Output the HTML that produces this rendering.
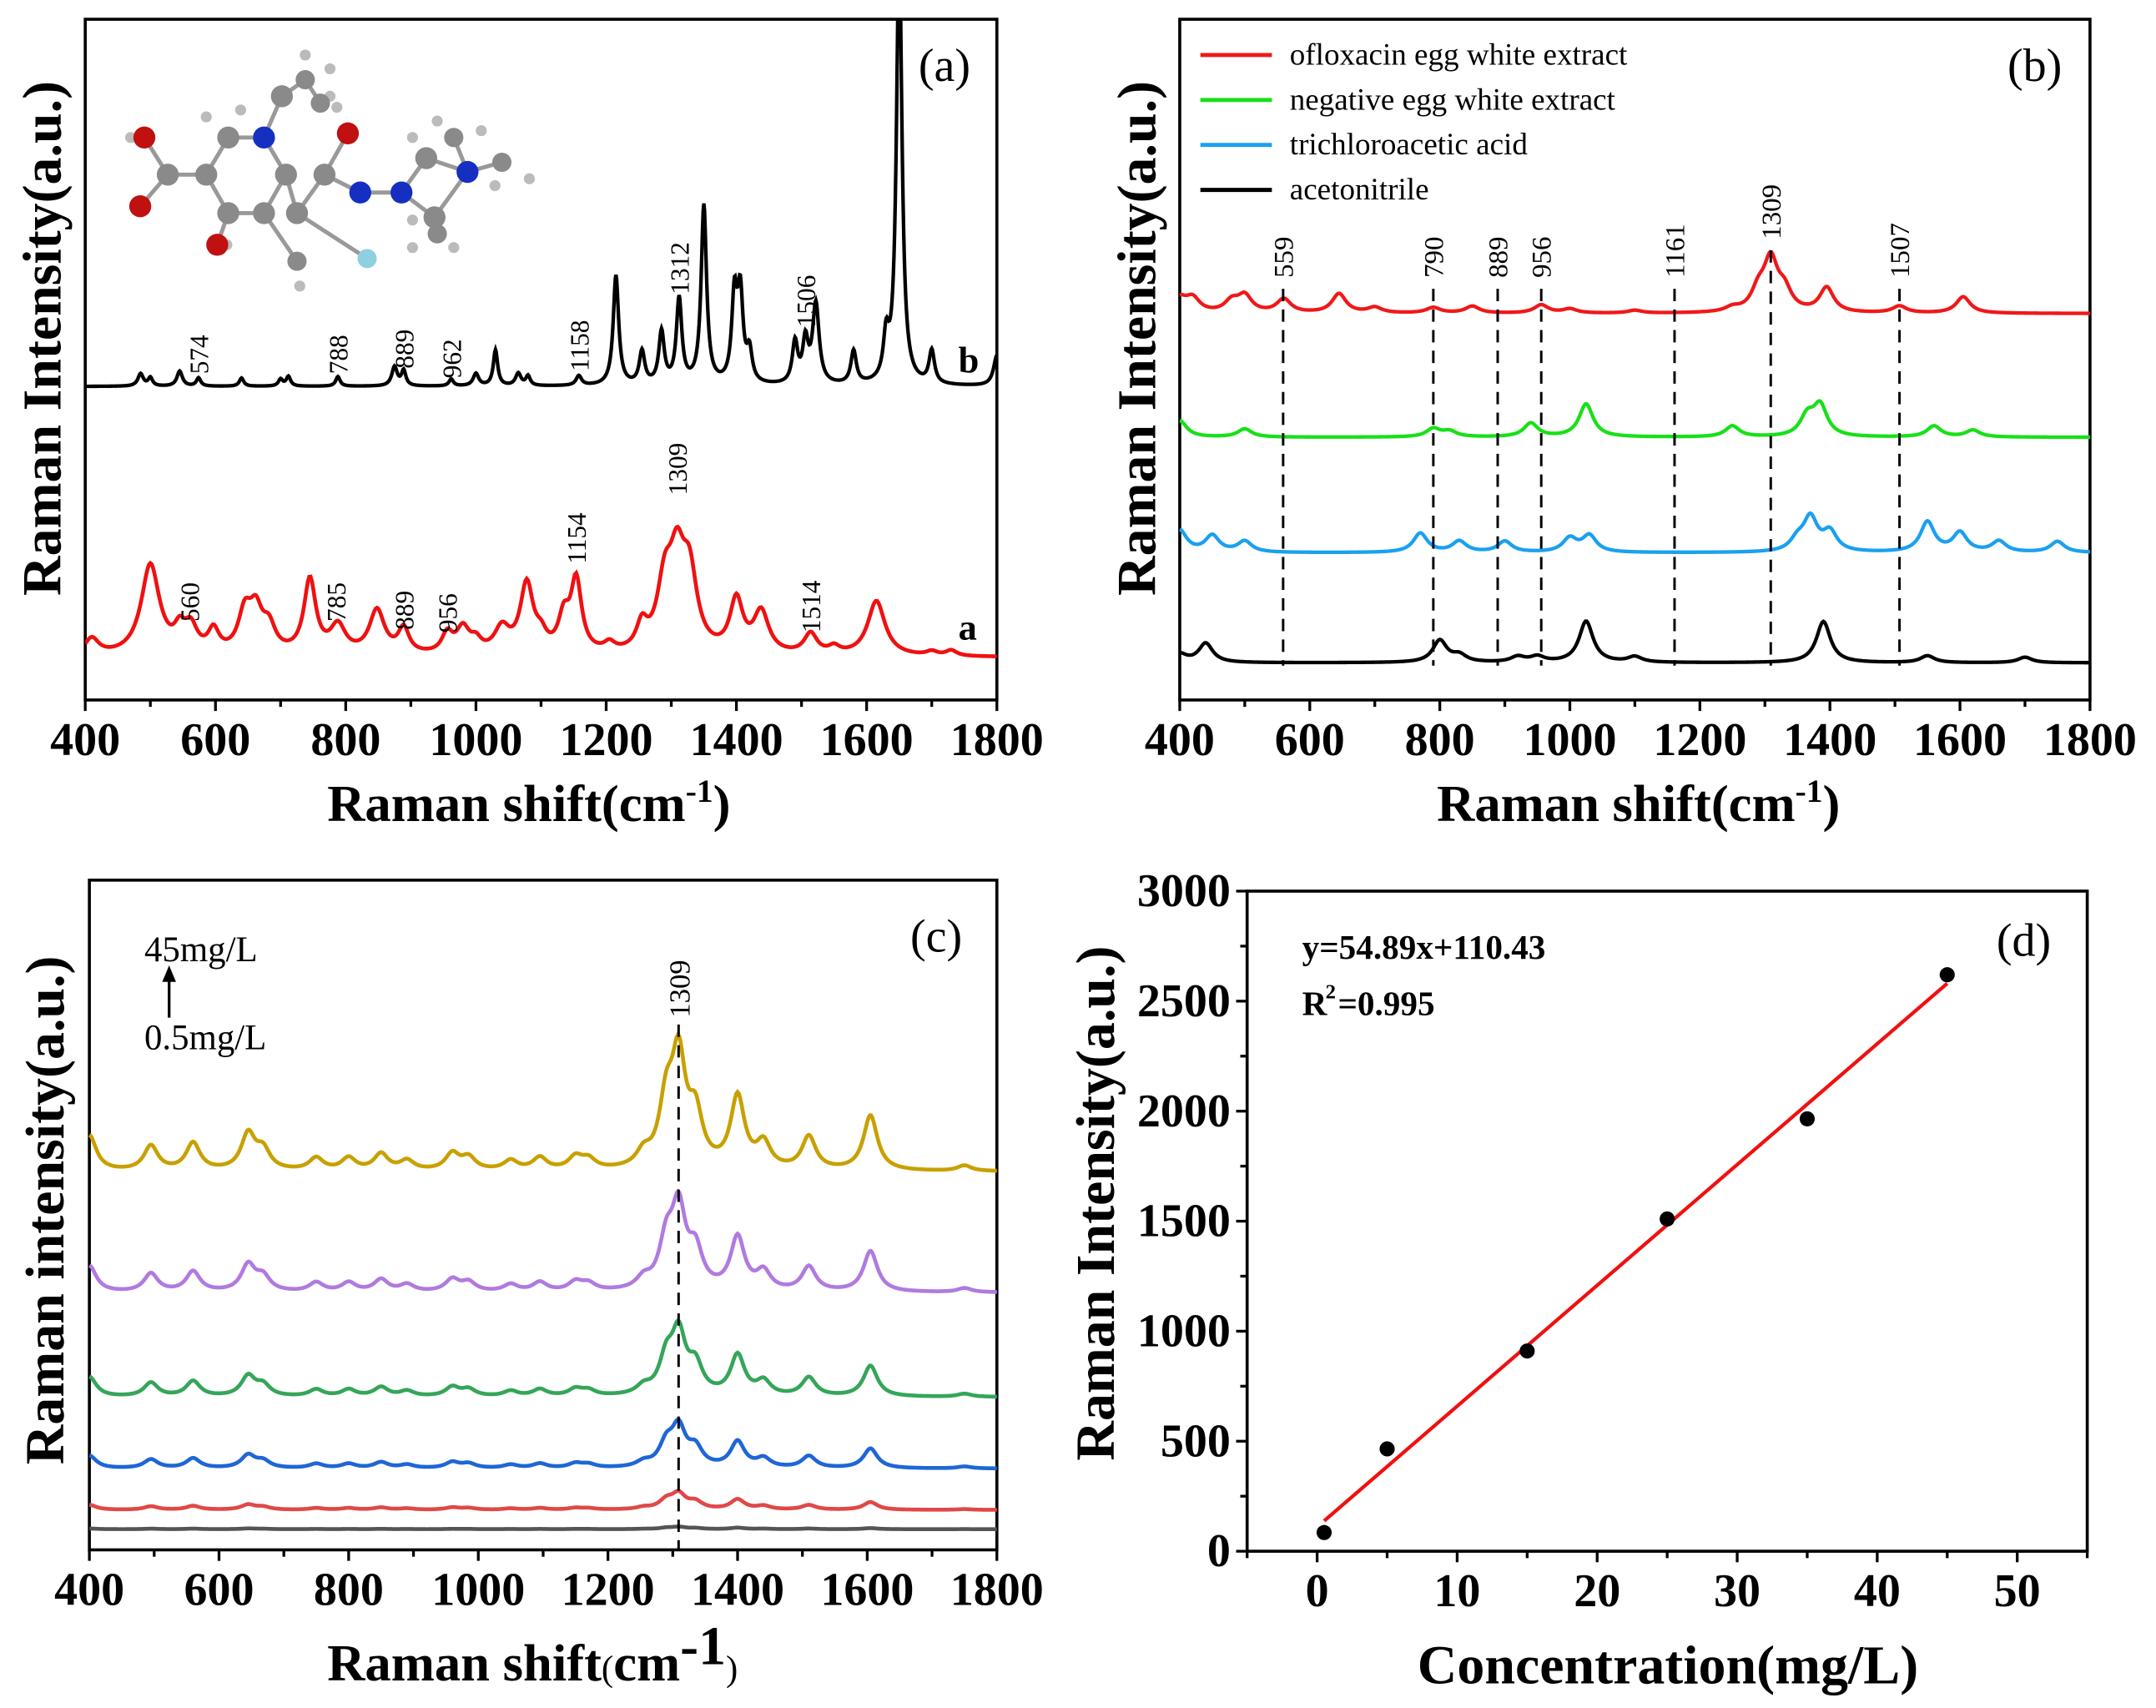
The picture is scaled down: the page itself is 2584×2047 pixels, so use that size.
<!DOCTYPE html>
<html><head><meta charset="utf-8">
<style>
html,body{margin:0;padding:0;background:#fff;}
svg{display:block;font-family:"Liberation Serif","DejaVu Serif",serif;}
</style></head>
<body>
<svg id="fig" width="2584" height="2047" viewBox="0 0 1568 1242" preserveAspectRatio="none" xmlns="http://www.w3.org/2000/svg"></svg>
<script>
// ---------- DATA ----------
const aRedCenters=[410,500,545,562,597,645,662,682,745,788,848,889,956,980,1000,1040,1078,1100,1135,1154,1205,1255,1290,1309,1328,1400,1438,1514,1550,1615,1700,1730];
const aRedHeights=[12,66,14,18,16,28,28,18,54,20,32,18,14,18,8,18,50,10,24,52,6,18,46,58,52,38,30,15,5,40,3,4];
const aRedWidths=[13,17,10,12,10,12,12,12,11,14,14,10,10,12,10,14,12,10,10,10,10,10,14,14,14,12,14,12,10,16,10,10];
const aBlkCenters=[485,500,545,574,640,700,712,788,875,889,962,1000,1030,1065,1080,1158,1215,1255,1285,1312,1350,1397,1406,1420,1490,1506,1522,1580,1630,1650,1700,1800];
const aBlkHeights=[9,6,11,6,6,5,7,7,14,11,5,9,26,9,7,7,80,24,38,62,130,62,62,22,30,30,58,24,30,320,24,22];
const aBlkWidths=[5,4,5,4,4,4,4,4,5,4,4,5,4,5,4,5,5,5,5,5,5,5,5,5,5,5,6,5,5,5,5,6];
const bSeriesNames=["ofloxacin egg white extract","negative egg white extract","trichloroacetic acid","acetonitrile"];
const bRedCenters=[400,420,480,500,560,645,700,790,850,956,1000,1100,1250,1290,1309,1330,1395,1507,1605];
const bRedHeights=[10,10,8,12,10,14,4,4,5,6,3,2,3,14,36,14,18,5,12];
const bGreenCenters=[400,500,790,815,940,1025,1250,1365,1385,1560,1620];
const bGreenHeights=[12,6,6,4,10,24,8,14,22,8,5];
const bBlueCenters=[400,450,500,770,830,900,1000,1030,1350,1370,1400,1550,1600,1660,1750];
const bBlueHeights=[16,12,8,14,8,8,10,12,8,24,14,22,14,8,8];
const bBlackCenters=[400,440,800,830,920,950,1025,1100,1390,1550,1700];
const bBlackHeights=[6,14,16,5,4,4,30,4,30,5,4];
const bMarks=[559,790,889,956,1161,1309,1507];
const cCenters=[400,495,560,645,668,750,800,850,890,960,985,1050,1095,1150,1170,1255,1290,1309,1335,1400,1440,1510,1605,1750];
const cHeights=[26,18,20,26,14,9,9,12,7,12,9,7,9,9,7,10,44,76,36,52,18,24,40,4];
const cScales=[1.0,0.74,0.56,0.36,0.14,0.02];
const cBaselines=[852,940,1016,1068,1098,1112];
const cColors=["#c8a000","#b07ae0","#35a55a","#1f66d6","#e04848","#555555"];
const cNames=["45mg/L","35mg/L","25mg/L","15mg/L","5mg/L","0.5mg/L"];
const dConc=[0.5,5,15,25,35,45];
const dInt=[85,465,910,1510,1965,2620];
const dSlope=54.89, dIntercept=110.43;
const xTicksRaman=[400,600,800,1000,1200,1400,1600,1800];
const dXTicks=[0,10,20,30,40,50];
const dYTicks=[0,500,1000,1500,2000,2500,3000];

// ---------- helpers ----------
const NS="http://www.w3.org/2000/svg";
const svg=document.getElementById('fig');
function mk(tag,attrs,parent){const e=document.createElementNS(NS,tag);for(const k in attrs)e.setAttribute(k,attrs[k]);(parent||svg).appendChild(e);return e;}
function txt(s,attrs,parent){const e=mk('text',attrs,parent);e.textContent=s;return e;}
function spec(cs,hs,ws,defW,x){let s=0;for(let i=0;i<cs.length;i++){const w=ws?ws[i]:defW;const d=(x-cs[i])/w;s+=hs[i]/(1+d*d);}return s;}
function ramanX(x0,x1){return v=>x0+(v-400)*(x1-x0)/1400;}
function pathFor(cs,hs,ws,defW,sx,base,scale,step){let d='';for(let v=400;v<=1800;v+=step){const y=base-scale*spec(cs,hs,ws,defW,v);d+=(d?'L':'M')+sx(v).toFixed(2)+','+y.toFixed(2);}return d;}
function ramanAxis(g,x0,x1,y0,y1){
  const sx=ramanX(x0,x1);
  const r=mk('rect',{x:x0,y:y0,width:x1-x0,height:y1-y0,fill:'none',stroke:'#000','stroke-width':2.2},g);
  
  
  for(let v=400;v<=1800;v+=100){const major=v%200===0;mk('line',{x1:sx(v),x2:sx(v),y1:y1,y2:y1+(major?8:5),stroke:'#000','stroke-width':2},g);}
  xTicksRaman.forEach(v=>{const t=txt(String(v),{x:sx(v),y:y1+40,'text-anchor':'middle','font-size':34,'font-weight':'bold'},g);
    
    });
  return sx;
}
function shiftTitle(g,x,y){
  const t=mk('text',{x:x,y:y,'font-size':38,'font-weight':'bold'},g);
  
  
  const a=mk('tspan',{},t);a.textContent='Raman shift(cm';
  const b=mk('tspan',{'font-size':24,dy:-14},t);b.textContent='-1';
  const c=mk('tspan',{dy:14},t);c.textContent=')';
  return t;
}

// ---------- PANEL A ----------
(function(){
const g=mk('g',{});


const x0=62,x1=725,y0=14,y1=509;
const sx=ramanAxis(g,x0,x1,y0,y1);
const clip=mk('clipPath',{id:'clipA'},g);mk('rect',{x:x0,y:y0,width:x1-x0,height:y1-y0},clip);
const red=mk('path',{d:pathFor(aRedCenters,aRedHeights,aRedWidths,10,sx,478,1,2),fill:'none',stroke:'#f01010','stroke-width':2.8,'clip-path':'url(#clipA)'},g);


const blk=mk('path',{d:pathFor(aBlkCenters,aBlkHeights,aBlkWidths,4,sx,281,1,1),fill:'none',stroke:'#000','stroke-width':2.6,'clip-path':'url(#clipA)'},g);


const redLabels=[[560,452],[785,452],[889,458],[956,460],[1154,410],[1309,360],[1514,460]];
const blkLabels=[[574,272],[788,272],[889,268],[962,275],[1158,270],[1312,214],[1506,238]];
redLabels.concat(blkLabels).forEach(([v,y])=>{const t=txt(String(v),{transform:`translate(${sx(v)+7},${y}) rotate(-90)`,'font-size':19},g);
  
  });
let t=txt('b',{x:697,y:271,'font-size':27,'font-weight':'bold'},g);
t=txt('a',{x:697,y:465,'font-size':27,'font-weight':'bold'},g);
t=txt('(a)',{x:668,y:59,'font-size':34},g);
shiftTitle(g,238,597);
t=txt('Raman Intensity(a.u.)',{transform:'translate(44,246) rotate(-90)','text-anchor':'middle','font-size':40,'font-weight':'bold'},g);
// molecule
const mol=mk('g',{},g);


const atoms=[[105,100,'r',8],[122,127,'g',8],[102,150,'r',8],[150,127,'g',8],[166,100,'g',8],[192,100,'b',8],[208,127,'g',8],[192,155,'g',8],[166,155,'g',8],[158,178,'r',8],[216,155,'g',8],[236,127,'g',8],[253,97,'r',8],[262,140,'b',8],[292,140,'b',8],[310,115,'g',8],[340,125,'b',8],[316,158,'g',8],[267,188,'c',7],[216,190,'g',7],[205,70,'g',8],[222,58,'g',7],[233,75,'g',7],[330,100,'g',7],[365,118,'g',7],[318,170,'g',7]];
const bonds=[[0,1],[1,2],[1,3],[3,4],[4,5],[5,6],[6,7],[7,8],[8,3],[8,9],[6,10],[10,11],[11,12],[11,13],[13,14],[14,15],[15,16],[16,17],[17,14],[10,18],[7,19],[5,20],[20,21],[21,22],[16,24],[16,23]];
bonds.forEach(([a,b])=>mk('line',{x1:atoms[a][0],y1:atoms[a][1],x2:atoms[b][0],y2:atoms[b][1],stroke:'#999','stroke-width':3},mol));
const hs=[[95,100],[150,85],[175,80],[165,178],[218,208],[222,40],[240,50],[245,78],[300,100],[318,88],[350,95],[385,130],[300,160],[330,180],[300,180],[240,70],[360,135]];
hs.forEach(h=>mk('circle',{cx:h[0],cy:h[1],r:4,fill:'#bbb'},mol));
const col={r:'#c01010',g:'#8a8a8a',b:'#1530c0',c:'#8ed0e0'};
atoms.forEach(a=>mk('circle',{cx:a[0],cy:a[1],r:a[3],fill:col[a[2]]},mol));
})();

// ---------- PANEL B ----------
(function(){
const g=mk('g',{});


const x0=858,x1=1520,y0=14,y1=509;
const sx=ramanAxis(g,x0,x1,y0,y1);
const defs=[[bRedCenters,bRedHeights,228,'#f01818'],[bGreenCenters,bGreenHeights,318,'#18e018'],[bBlueCenters,bBlueHeights,402,'#1aa0f0'],[bBlackCenters,bBlackHeights,482,'#000']];
defs.forEach((d,i)=>{const p=mk('path',{d:pathFor(d[0],d[1],null,13,sx,d[2],1,2),fill:'none',stroke:d[3],'stroke-width':2.6},g);
  
  });
bMarks.forEach(v=>{const top=v===1309?182:210;
  const l=mk('line',{x1:sx(v),x2:sx(v),y1:top,y2:484,stroke:'#000','stroke-width':1.8,'stroke-dasharray':'9,6'},g);
  
  
  const t=txt(String(v),{transform:`translate(${sx(v)+7},${top-8}) rotate(-90)`,'font-size':20},g);
  
  });
const cols=['#f01818','#18e018','#1aa0f0','#000'];
bSeriesNames.forEach((n,i)=>{const y=40+i*32.7;
  const l=mk('line',{x1:873,x2:925,y1:y,y2:y,stroke:cols[i],'stroke-width':3},g);
  
  
  const t=txt(n,{x:938,y:y+7,'font-size':22.5},g);
  
  });
let t=txt('(b)',{x:1460,y:59,'font-size':34},g);
shiftTitle(g,1045,597);
t=txt('Raman Intensity(a.u.)',{transform:'translate(840,246) rotate(-90)','text-anchor':'middle','font-size':40,'font-weight':'bold'},g);
})();

// ---------- PANEL C ----------
(function(){
const g=mk('g',{});


const x0=65,x1=725,y0=640,y1=1127;
const sx=ramanAxis(g,x0,x1,y0,y1);
cScales.forEach((s,i)=>{const p=mk('path',{d:pathFor(cCenters,cHeights,null,13,sx,cBaselines[i],s,2),fill:'none',stroke:cColors[i],'stroke-width':2.8},g);
  
  });
const l=mk('line',{x1:sx(1309),x2:sx(1309),y1:745,y2:1127,stroke:'#000','stroke-width':1.8,'stroke-dasharray':'9,6'},g);


let t=txt('1309',{transform:`translate(${sx(1309)+8},740) rotate(-90)`,'font-size':21},g);
t=txt('45mg/L',{x:105,y:699,'font-size':26},g);
t=txt('0.5mg/L',{x:105,y:763,'font-size':26},g);
mk('line',{x1:123,x2:123,y1:740,y2:712,stroke:'#000','stroke-width':2},g);
mk('path',{d:'M118,714 L123,702 L128,714 Z',fill:'#000'},g);
t=txt('(c)',{x:662,y:692,'font-size':34},g);
const tt=mk('text',{x:238,y:1222,'font-size':38,'font-weight':'bold'},g);


const a=mk('tspan',{},tt);a.textContent='Raman shift';
const b=mk('tspan',{'font-size':26,'font-weight':'normal'},tt);b.textContent='(';
const c=mk('tspan',{},tt);c.textContent='cm';
const d=mk('tspan',{dy:-12,'font-size':40},tt);d.textContent='-1';
const e=mk('tspan',{dy:12,'font-size':26,'font-weight':'normal'},tt);e.textContent=')';
t=txt('Raman intensity(a.u.)',{transform:'translate(46,880) rotate(-90)','text-anchor':'middle','font-size':40,'font-weight':'bold'},g);
})();

// ---------- PANEL D ----------
(function(){
const g=mk('g',{});


const x0=907,x1=1518,y0=648,y1=1128;
const sx=v=>x0+(v+5)*(x1-x0)/60;
const sy=v=>y1-v*(y1-y0)/3000;
const r=mk('rect',{x:x0,y:y0,width:x1-x0,height:y1-y0,fill:'none',stroke:'#000','stroke-width':2.2},g);


for(let v=-5;v<=55;v+=5){const major=v%10===0;mk('line',{x1:sx(v),x2:sx(v),y1:y1,y2:y1+(major?8:5),stroke:'#000','stroke-width':2},g);}
for(let v=0;v<=3000;v+=250){const major=v%500===0;mk('line',{x1:x0,x2:x0-(major?8:5),y1:sy(v),y2:sy(v),stroke:'#000','stroke-width':2},g);}
dXTicks.forEach(v=>{const t=txt(String(v),{x:sx(v),y:y1+40,'text-anchor':'middle','font-size':34,'font-weight':'bold'},g);
  
  });
dYTicks.forEach(v=>{const t=txt(String(v),{x:x0-12,y:sy(v)+11,'text-anchor':'end','font-size':34,'font-weight':'bold'},g);
  
  });
const fx0=dConc[0],fx1=dConc[dConc.length-1];
const fit=mk('line',{x1:sx(fx0),y1:sy(dSlope*fx0+dIntercept),x2:sx(fx1),y2:sy(dSlope*fx1+dIntercept),stroke:'#f01010','stroke-width':2.6},g);


dConc.forEach((c,i)=>{const p=mk('circle',{cx:sx(c),cy:sy(dInt[i]),r:5.5,fill:'#000'},g);
  
  });
let t=txt('y=54.89x+110.43',{x:947,y:697,'font-size':25,'font-weight':'bold'},g);
t=txt('R',{x:947,y:738,'font-size':25,'font-weight':'bold'},g);
txt('2',{x:964,y:726,'font-size':15,'font-weight':'bold'},g);
txt('=0.995',{x:973,y:738,'font-size':25,'font-weight':'bold'},g);
t=txt('(d)',{x:1452,y:695,'font-size':34},g);
t=txt('Concentration(mg/L)',{x:1213,y:1224,'text-anchor':'middle','font-size':40,'font-weight':'bold'},g);
t=txt('Raman Intensity(a.u.)',{transform:'translate(810,875) rotate(-90)','text-anchor':'middle','font-size':40,'font-weight':'bold'},g);
})();
</script>
</body></html>
